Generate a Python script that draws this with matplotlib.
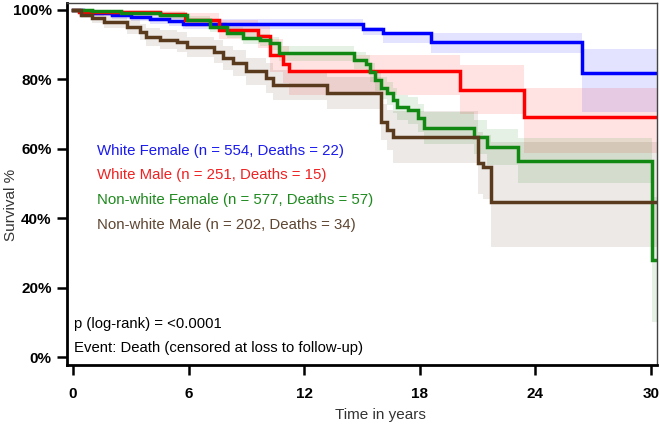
import numpy as np
import matplotlib
matplotlib.use('Agg')
import matplotlib.pyplot as plt

plt.rcParams['font.family'] = ['Liberation Sans', 'DejaVu Sans']

# step times (years) and survival %, with band edges
t_wf = [0, 0.5, 1.0, 2.0, 3.0, 4.0, 5.0, 5.7, 15.05, 16.1, 18.6, 26.4]
s_wf = [100, 99.6, 99.1, 98.5, 97.9, 97.3, 96.7, 96.0, 94.6, 93.4, 90.8, 81.8]
lo_wf = [100, 99.0, 98.3, 97.5, 96.8, 96.0, 95.3, 94.6, 92.8, 90.5, 87.6, 70.6]
hi_wf = [100, 100, 99.8, 99.4, 99.0, 98.6, 98.2, 97.4, 95.1, 93.4, 93.4, 88.8]

t_wm = [0, 0.3, 4.5, 5.8, 7.6, 9.6, 10.2, 10.9, 11.2, 20.1, 23.4]
s_wm = [100, 99.4, 98.8, 97.0, 94.2, 92.5, 87.0, 84.5, 82.3, 77.0, 69.2]
lo_wm = [100, 98.3, 97.3, 95.0, 91.5, 89.0, 82.0, 79.0, 75.5, 70.0, 58.8]
hi_wm = [100, 100, 99.8, 99.0, 97.0, 95.5, 91.5, 89.5, 87.0, 84.0, 77.5]

t_nf = [0, 1.0, 2.5, 4.5, 5.9, 7.1, 8.0, 8.8, 9.7, 10.2, 10.7, 14.6, 15.2,
        15.4, 15.7, 16.0, 16.3, 16.6, 16.8, 17.4, 17.9, 18.2, 20.8, 21.5,
        23.1, 30.05]
s_nf = [100, 99.6, 99.2, 98.5, 97.1, 95.1, 93.4, 91.9, 91.4, 90.5, 87.6,
        85.6, 84.5, 82.1, 79.8, 77.5, 76.0, 74.0, 72.0, 71.2, 68.9, 66.0,
        63.4, 60.5, 56.5, 28.0]
lo_nf = [100, 99.0, 98.4, 97.5, 95.8, 93.6, 91.8, 90.2, 89.6, 88.6, 85.4,
         83.0, 81.8, 79.2, 76.7, 74.2, 72.5, 70.3, 68.2, 67.2, 64.7, 61.5,
         58.5, 55.3, 50.1, 10.0]
hi_nf = [100, 100, 99.8, 99.3, 98.3, 96.6, 95.0, 93.6, 93.2, 92.3, 89.7,
         88.0, 87.0, 84.8, 82.7, 80.6, 79.3, 77.5, 75.6, 75.0, 72.9, 70.5,
         68.2, 65.6, 63.0, 46.0]

t_nm = [0, 0.4, 1.0, 1.6, 2.8, 3.5, 3.8, 4.5, 5.4, 5.9, 7.3, 7.8, 8.3, 9.0,
        10.0, 10.4, 13.2, 16.0, 16.3, 16.6, 21.0, 21.3, 21.7]
s_nm = [100, 98.6, 97.7, 96.5, 95.1, 93.7, 92.2, 91.4, 90.8, 89.3, 87.9,
        86.2, 84.7, 82.4, 80.4, 78.4, 76.0, 67.7, 65.5, 63.4, 55.9, 54.8, 44.7]
lo_nm = [100, 97.6, 96.3, 94.8, 93.1, 91.4, 89.7, 88.7, 88.0, 86.3, 84.6,
         82.7, 81.0, 78.5, 76.2, 74.0, 71.4, 62.5, 59.7, 56.0, 47.0, 45.5, 31.7]
hi_nm = [100, 99.6, 99.1, 98.2, 97.1, 96.0, 94.7, 94.1, 93.6, 92.3, 91.2,
         89.7, 88.4, 86.1, 84.6, 82.8, 80.6, 72.9, 71.3, 70.8, 64.8, 64.1, 62.0]

labels = ['White Female (n = 554, Deaths = 22)',
          'White Male (n = 251, Deaths = 15)',
          'Non-white Female (n = 577, Deaths = 57)',
          'Non-white Male (n = 202, Deaths = 34)']
line_colors = ['#0000ff', '#ff0000', '#118811', '#5a3a1c']
text_colors = ['#1a1aee', '#ee2222', '#1e8a1e', '#5e4632']

t_end = 30.31

fig = plt.figure(figsize=(6.6, 4.28), dpi=100)
ax = fig.add_axes([67 / 660, 1 - 365 / 428, 590 / 660, 362 / 428])

groups = [(t_wf, s_wf, lo_wf, hi_wf), (t_wm, s_wm, lo_wm, hi_wm),
          (t_nf, s_nf, lo_nf, hi_nf), (t_nm, s_nm, lo_nm, hi_nm)]

# bands first, then lines on top
for (t, s, lo, hi), c in zip(groups, line_colors):
    tt = list(t) + [t_end]
    ax.fill_between(tt, list(lo) + [lo[-1]], list(hi) + [hi[-1]],
                    step='post', color=c, alpha=0.11, lw=0)
for (t, s, lo, hi), c in zip(groups, line_colors):
    tt = list(t) + [t_end]
    ax.step(tt, list(s) + [s[-1]], where='post', color=c, lw=2.5,
            solid_joinstyle='miter')

ax.set_xlim(-0.31, t_end)
ax.set_ylim(-2.3, 102.0)
ax.set_xticks([0, 6, 12, 18, 24, 30])
ax.set_yticks([0, 20, 40, 60, 80, 100])
ax.set_yticklabels(['0%', '20%', '40%', '60%', '80%', '100%'])
for lab in ax.get_xticklabels() + ax.get_yticklabels():
    lab.set_fontweight('bold')
    lab.set_fontsize(11)
ax.tick_params(axis='both', direction='out', length=7, width=1.8, color='black')
ax.tick_params(axis='y', pad=4)
ax.tick_params(axis='x', pad=9)

for side in ['left', 'bottom']:
    ax.spines[side].set_linewidth(2.0)
    ax.spines[side].set_color('black')
for side in ['top', 'right']:
    ax.spines[side].set_linewidth(1.0)
    ax.spines[side].set_color('#444444')

# group labels
for i, (lab, c) in enumerate(zip(labels, text_colors)):
    ax.text(1.25, 59.5 - i * 7.2, lab, color=c, fontsize=10.8,
            va='center', ha='left')

ax.text(0.05, 9.6, 'p (log-rank) = <0.0001', fontsize=10.7, va='center')
ax.text(0.05, 2.7, 'Event: Death (censored at loss to follow-up)',
        fontsize=10.7, va='center')

fig.text(380 / 660, 1 - 415 / 428, 'Time in years', fontsize=11,
         color='#333333', ha='center', va='center')
fig.text(11 / 660, 1 - 205 / 428, 'Survival %', fontsize=11,
         color='#333333', ha='center', va='center', rotation=90)

fig.savefig('out.png', dpi=100)
